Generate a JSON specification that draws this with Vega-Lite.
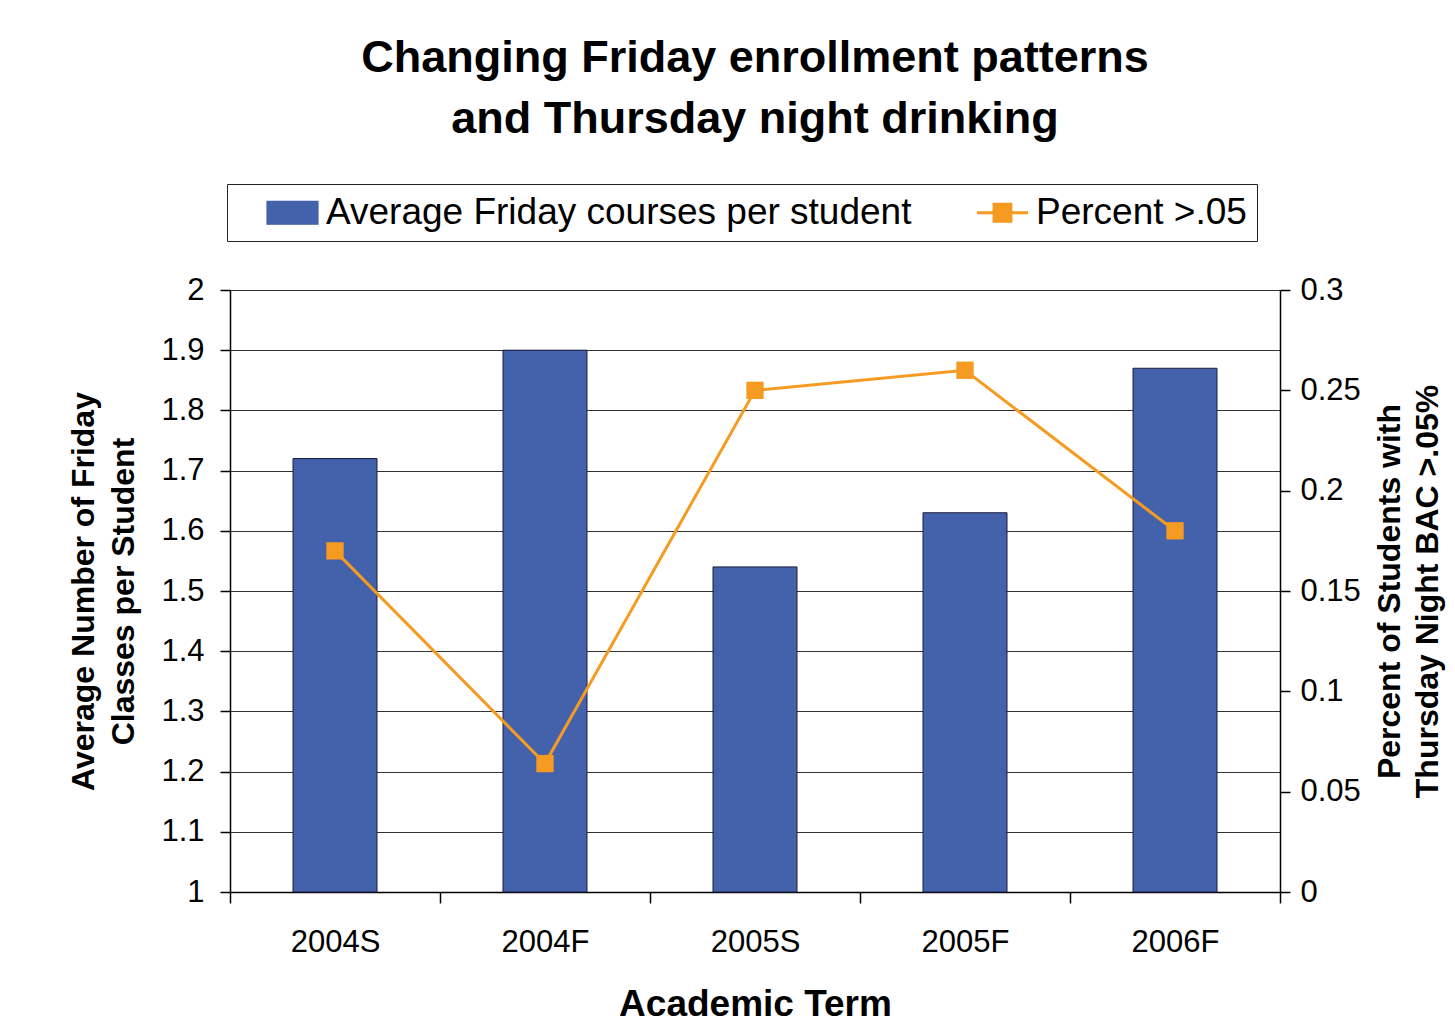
{
  "$schema": "https://vega.github.io/schema/vega-lite/v6.json",
  "autosize": {"type": "none"},
  "padding": {"left": 230, "top": 290, "right": 175, "bottom": 132},
  "width": 1050,
  "height": 602,
  "background": "white",
  "title": {
    "text": ["Changing Friday enrollment patterns", "and Thursday night drinking"],
    "font": "Liberation Sans",
    "fontSize": 45,
    "fontWeight": "bold",
    "color": "black",
    "lineHeight": 61,
    "anchor": "middle",
    "offset": 42
  },
  "config": {
    "view": {"stroke": null},
    "font": "Liberation Sans",
    "axis": {
      "labelFont": "Liberation Sans",
      "labelFontSize": 31,
      "labelColor": "black",
      "titleFont": "Liberation Sans",
      "titleFontWeight": "bold",
      "titleColor": "black",
      "domainColor": "black",
      "tickColor": "black",
      "domainWidth": 1.5,
      "tickWidth": 1.5
    }
  },
  "data": {
    "values": [
      {"term": "2004S", "courses": 1.72, "pct": 0.17},
      {"term": "2004F", "courses": 1.90, "pct": 0.064},
      {"term": "2005S", "courses": 1.54, "pct": 0.25},
      {"term": "2005F", "courses": 1.63, "pct": 0.26},
      {"term": "2006F", "courses": 1.87, "pct": 0.18}
    ]
  },
  "encoding": {
    "x": {
      "field": "term",
      "type": "nominal",
      "sort": null,
      "scale": {"paddingInner": 0, "paddingOuter": 0},
      "axis": {
        "title": "Academic Term",
        "titleFontSize": 37,
        "titlePadding": 29,
        "labelAngle": 0,
        "tickBand": "extent",
        "tickSize": 11,
        "labelPadding": 24
      }
    }
  },
  "layer": [
    {
      "mark": {"type": "bar", "width": {"band": 0.4}, "stroke": "#1c1c3c", "strokeWidth": 1},
      "encoding": {
        "y": {
          "field": "courses",
          "type": "quantitative",
          "scale": {"domain": [1, 2], "zero": false, "nice": false},
          "axis": {
            "title": ["Average Number of Friday", "Classes per Student"],
            "titleFontSize": 32,
            "titleLineHeight": 40,
            "titlePadding": 20,
            "values": [1, 1.1, 1.2, 1.3, 1.4, 1.5, 1.6, 1.7, 1.8, 1.9, 2],
            "labelExpr": "format(datum.value, '~g')",
            "tickSize": 10,
            "labelPadding": 16,
            "grid": true,
            "gridColor": "#333333",
            "gridWidth": 1.2
          }
        },
        "y2": {"datum": 1},
        "color": {
          "datum": "Average Friday courses per student",
          "type": "nominal",
          "scale": {
            "domain": ["Average Friday courses per student", "Percent >.05"],
            "range": ["#4462ab", "#f59b21"]
          },
          "legend": {
            "orient": "none",
            "legendX": -3,
            "legendY": -106,
            "direction": "horizontal",
            "title": null,
            "strokeColor": "#222222",
            "padding": 10,
            "symbolOffset": 37,
            "symbolSize": 2601,
            "labelFont": "Liberation Sans",
            "labelFontSize": 37,
            "labelColor": "black",
            "labelOffset": 15,
            "labelLimit": 700,
            "columnPadding": 35,
            "encode": {
              "symbols": {
                "update": {
                  "shape": {"signal": "datum.value === 'Percent >.05' ? 'M-1,0H1M-0.33,-0.33H0.33V0.33H-0.33Z' : 'M-1,-0.45H1V0.45H-1Z'"},
                  "fill": {"signal": "scale('color', datum.value)"},
                  "stroke": {"signal": "datum.value === 'Percent >.05' ? '#f59b21' : '#1c1c3c'"},
                  "strokeWidth": {"signal": "datum.value === 'Percent >.05' ? 3 : 1.2"},
                  "opacity": {"value": 1}
                }
              }
            }
          }
        }
      }
    },
    {
      "mark": {"type": "line", "strokeWidth": 3, "point": {"shape": "square", "filled": true, "size": 300, "opacity": 1}},
      "encoding": {
        "y": {
          "field": "pct",
          "type": "quantitative",
          "scale": {"domain": [0, 0.3], "nice": false},
          "axis": {
            "orient": "right",
            "title": ["Percent of Students with", "Thursday Night BAC >.05%"],
            "titleFontSize": 32,
            "titleLineHeight": 38,
            "titleAngle": 270,
            "titlePadding": 8,
            "values": [0, 0.05, 0.1, 0.15, 0.2, 0.25, 0.3],
            "labelExpr": "format(datum.value, '~g')",
            "tickSize": 10,
            "labelPadding": 10,
            "grid": false
          }
        },
        "color": {
          "datum": "Percent >.05",
          "type": "nominal",
          "legend": {
            "orient": "none",
            "legendX": -3,
            "legendY": -106,
            "direction": "horizontal",
            "title": null,
            "strokeColor": "#222222",
            "padding": 10,
            "symbolOffset": 37,
            "symbolSize": 2601,
            "labelFont": "Liberation Sans",
            "labelFontSize": 37,
            "labelColor": "black",
            "labelOffset": 15,
            "labelLimit": 700,
            "columnPadding": 35,
            "encode": {
              "symbols": {
                "update": {
                  "shape": {"signal": "datum.value === 'Percent >.05' ? 'M-1,0H1M-0.33,-0.33H0.33V0.33H-0.33Z' : 'M-1,-0.45H1V0.45H-1Z'"},
                  "fill": {"signal": "scale('color', datum.value)"},
                  "stroke": {"signal": "datum.value === 'Percent >.05' ? '#f59b21' : '#1c1c3c'"},
                  "strokeWidth": {"signal": "datum.value === 'Percent >.05' ? 3 : 1.2"},
                  "opacity": {"value": 1}
                }
              }
            }
          }
        }
      }
    }
  ],
  "resolve": {"scale": {"y": "independent"}}
}
